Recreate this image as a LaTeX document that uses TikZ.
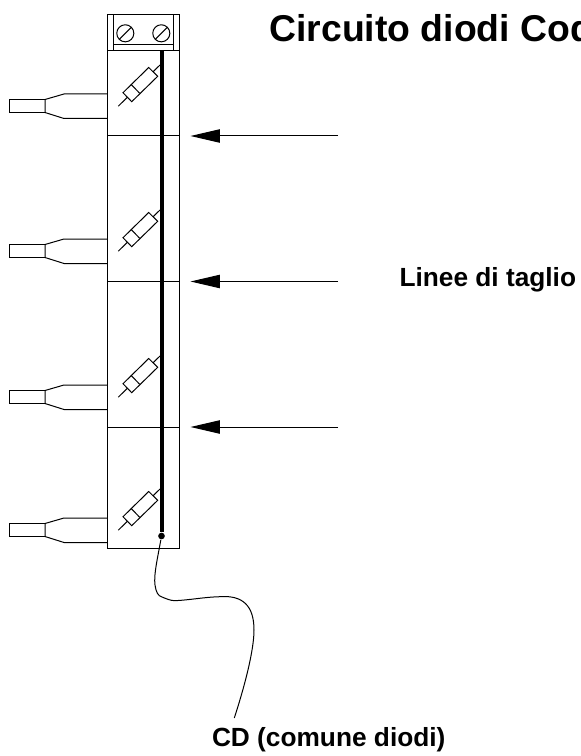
\documentclass[tikz,border=0pt]{standalone}
\usepackage{fontspec}
\setmainfont{Liberation Sans}
\usetikzlibrary{arrows.meta}
\tikzset{
    txtlabel/.style={anchor=base west, inner sep=0pt, font=\bfseries\fontsize{#1}{#1}\selectfont},
    cutarrow/.style={-{Triangle[length=22pt, width=10pt]}, line width=0.75pt},
}
\begin{document}
\begin{tikzpicture}[x=0.75pt, y=-0.75pt, line width=0.75pt]
\useasboundingbox (0,0) rectangle (581,756);
% terminal block and body
\coordinate (topleft) at (107,15);
\coordinate (topright) at (179.5,15);
\coordinate (botleft) at (107,548);
\coordinate (botright) at (179.5,548);
\draw (topleft) -- (topright) -- (botright) -- (botleft) -- cycle;
\draw (113,15) -- (113,51);
\draw (173,15) -- (173,51);
\draw (113,45) -- (173,45);
\draw (107,51) -- (179.5,51);
\foreach \x in {125.3,161.3} {
    \draw (\x,33.3) circle[radius=6.4pt];
    \draw (\x-6,39.3) -- (\x+6,27.3);
}
% cut lines with arrows
\foreach \y/\name in {136/one,281.5/two,427/three} {
    \coordinate (cutl\name) at (107,\y);
    \coordinate (cutr\name) at (179.5,\y);
    \coordinate (tail\name) at (338,\y);
    \coordinate (head\name) at (190.5,\y);
    \draw (cutl\name) -- (cutr\name);
    \draw[cutarrow] (tail\name) -- (head\name);
}
% leads and diodes
\foreach \y in {94,239,385,518} {
\begin{scope}[shift={(0,\y)}]
    \draw (107,0) -- (64,0) -- (45,5.5) -- (45,18.5) -- (64,24.5) -- (107,24.5);
    \draw (45,5.5) -- (9,5.5) -- (9,18.5) -- (45,18.5);
    \draw[fill=white] (148.7,-26.5) -- (157.7,-17.7) -- (131.7,7.7) -- (123,-1.3) -- cycle;
    \draw (131,-9.7) -- (139.7,-0.7);
    \draw (160,-29) -- (153,-22.2);
    \draw (127.3,3.3) -- (118.3,12.2);
\end{scope}
}
% common wire
\node[circle, fill, inner sep=0pt, minimum size=5pt] (cddot) at (161.5,536) {};
\coordinate (railtop) at (161.5,51);
\draw[line width=3pt] (railtop) -- (cddot);
\coordinate (wireend) at (234.3,718);
\draw (cddot) .. controls (158,556) and (153.5,575) .. (155,585) .. controls (156,592) and (158,596) .. (162,597) .. controls (167,599) and (170,600.5) .. (175,600.7) .. controls (190,600) and (205,597) .. (220,596.7) .. controls (243,595) and (254,606) .. (254,630) .. controls (254,650) and (245,685) .. (wireend);
% labels
\node[txtlabel=28] (title) at (269,41.5) {Circuito diodi Cod};
\node[txtlabel=19.7] (cutlabel) at (399,286.7) {Linee di taglio};
\node[txtlabel=19.7] (cdlabel) at (211.5,746.7) {CD (comune diodi)};
\end{tikzpicture}
\end{document}
